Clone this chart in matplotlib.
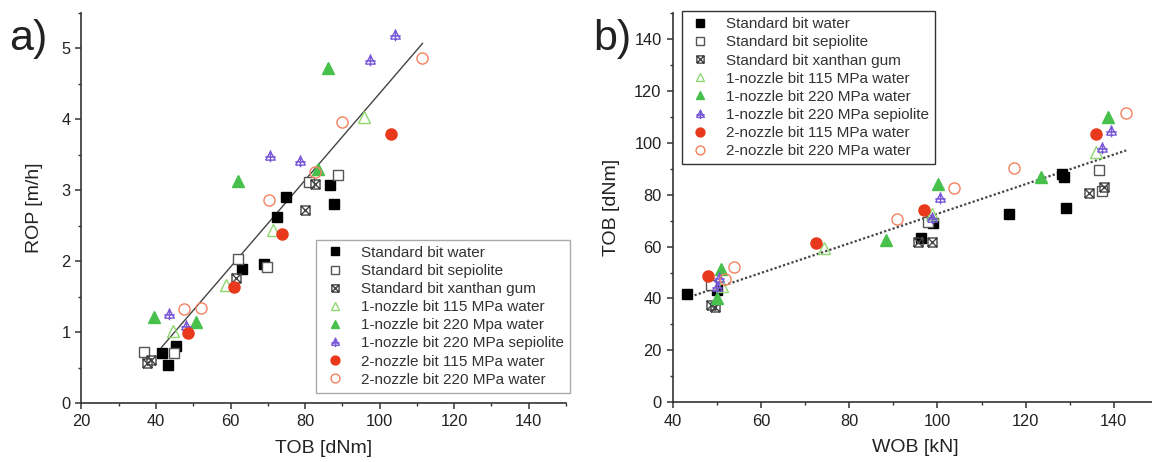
import numpy as np
import matplotlib
matplotlib.use('Agg')
import matplotlib.pyplot as plt
from matplotlib.path import Path
from matplotlib.ticker import MultipleLocator

plt.rcParams['font.family'] = ['Liberation Sans', 'DejaVu Sans']

labels = ['Standard bit water', 'Standard bit sepiolite', 'Standard bit xanthan gum',
          '1-nozzle bit 115 MPa water', '1-nozzle bit 220 Mpa water',
          '1-nozzle bit 220 MPa sepiolite', '2-nozzle bit 115 MPa water',
          '2-nozzle bit 220 MPa water']
labels_b = list(labels)
labels_b[4] = '1-nozzle bit 220 MPa water'

# panel a: ROP vs TOB
a_std_water_x = [41.5, 43.2, 45.3, 63.2, 69.0, 72.4, 74.9, 86.6, 87.8]
a_std_water_y = [0.71, 0.54, 0.81, 1.89, 1.96, 2.63, 2.91, 3.07, 2.81]
a_std_sep_x = [36.9, 44.8, 62.0, 69.9, 81.0, 88.9]
a_std_sep_y = [0.72, 0.71, 2.04, 1.92, 3.12, 3.22]
a_std_xan_x = [37.6, 38.6, 61.6, 82.7, 80.1]
a_std_xan_y = [0.57, 0.61, 1.77, 3.09, 2.72]
a_n1_115_x = [44.5, 58.8, 71.5, 95.7]
a_n1_115_y = [1.02, 1.66, 2.44, 4.04]
a_n1_220_x = [39.6, 50.7, 62.0, 86.2, 83.6]
a_n1_220_y = [1.22, 1.15, 3.13, 4.73, 3.30]
a_n1_sep_x = [43.5, 48.1, 70.5, 78.6, 97.5, 104.1]
a_n1_sep_y = [1.26, 1.09, 3.49, 3.41, 4.84, 5.19]
a_n2_115_x = [48.7, 61.0, 73.9, 103.1]
a_n2_115_y = [0.99, 1.64, 2.38, 3.79]
a_n2_220_x = [47.5, 52.1, 70.2, 82.7, 89.9, 111.5]
a_n2_220_y = [1.33, 1.34, 2.87, 3.26, 3.96, 4.87]
a_fit_x = [41.5, 111.5]
a_fit_y = [0.79, 5.07]

# panel b: TOB vs WOB
b_std_water_x = [43.2, 50.0, 96.3, 99.1, 116.2, 128.2, 128.7, 129.1]
b_std_water_y = [41.6, 43.3, 63.1, 69.0, 72.4, 88.0, 86.6, 75.0]
b_std_sep_x = [48.8, 97.8, 136.6, 137.4]
b_std_sep_y = [45.2, 69.6, 89.5, 81.2]
b_std_xan_x = [48.8, 49.6, 95.5, 98.8, 134.3, 137.7]
b_std_xan_y = [37.5, 36.9, 61.9, 61.9, 80.5, 82.8]
b_n1_115_x = [51.1, 74.4, 98.7, 136.0]
b_n1_115_y = [44.8, 59.3, 72.4, 96.2]
b_n1_220_x = [50.0, 51.0, 88.4, 100.1, 123.5, 138.7]
b_n1_220_y = [40.1, 51.2, 62.5, 84.0, 86.6, 109.8]
b_n1_sep_x = [50.4, 50.0, 98.8, 100.7, 137.2, 139.3]
b_n1_sep_y = [47.8, 44.6, 70.9, 78.6, 97.9, 104.3]
b_n2_115_x = [48.1, 72.4, 96.9, 136.0]
b_n2_115_y = [48.7, 61.3, 74.1, 103.3]
b_n2_220_x = [53.8, 51.9, 90.9, 103.7, 117.4, 142.8]
b_n2_220_y = [52.3, 47.4, 70.5, 82.5, 90.2, 111.4]
b_fit_x = [44.0, 142.8]
b_fit_y = [40.7, 97.0]

M, L = Path.MOVETO, Path.LINETO
box_x = Path([(-1, -1), (1, -1), (1, 1), (-1, 1), (-1, -1), (-1, -1), (1, 1), (-1, 1), (1, -1)],
             [M, L, L, L, L, M, L, M, L])
tri_cross = Path([(-1, -0.75), (1, -0.75), (0, 1), (-1, -0.75), (0, -1.2), (0, 1.3), (-1.1, -0.1), (1.1, -0.1)],
                 [M, L, L, L, M, L, M, L])

styles = [
    dict(marker='s', ms=7, mfc='black', mec='black'),
    dict(marker='s', ms=6.5, mfc='white', mec='#555555', mew=1.0),
    dict(marker=box_x, ms=6.5, mfc='none', mec='#444444', mew=1.0),
    dict(marker='^', ms=8, mfc='none', mec='#8fd870', mew=1.0),
    dict(marker='^', ms=8, mfc='#48c04c', mec='#48c04c'),
    dict(marker=tri_cross, ms=9, mfc='none', mec='#7a5ad8', mew=1.0),
    dict(marker='o', ms=8, mfc='#e8391c', mec='#e8391c'),
    dict(marker='o', ms=8, mfc='none', mec='#f5805f', mew=1.0),
]

fig = plt.figure(figsize=(11.52, 4.62), dpi=100)
ax1 = fig.add_axes([0.0707, 0.127, 0.4206, 0.845])
ax2 = fig.add_axes([0.5839, 0.129, 0.4213, 0.8435])

series_a = [(a_std_water_x, a_std_water_y), (a_std_sep_x, a_std_sep_y), (a_std_xan_x, a_std_xan_y),
            (a_n1_115_x, a_n1_115_y), (a_n1_220_x, a_n1_220_y), (a_n1_sep_x, a_n1_sep_y),
            (a_n2_115_x, a_n2_115_y), (a_n2_220_x, a_n2_220_y)]
series_b = [(b_std_water_x, b_std_water_y), (b_std_sep_x, b_std_sep_y), (b_std_xan_x, b_std_xan_y),
            (b_n1_115_x, b_n1_115_y), (b_n1_220_x, b_n1_220_y), (b_n1_sep_x, b_n1_sep_y),
            (b_n2_115_x, b_n2_115_y), (b_n2_220_x, b_n2_220_y)]

for ax, series, labs in [(ax1, series_a, labels), (ax2, series_b, labels_b)]:
    for (x, y), st, lab in zip(series, styles, labs):
        ax.plot(x, y, ls='none', label=lab, **st)

ax1.plot(a_fit_x, a_fit_y, color='#444444', lw=1.0, zorder=1)
ax2.plot(b_fit_x, b_fit_y, color='#444444', lw=1.6, ls=(0, (1, 1)), zorder=1)

ax1.set_xlim(20, 150)
ax1.set_ylim(0, 5.5)
ax1.xaxis.set_major_locator(MultipleLocator(20))
ax1.xaxis.set_minor_locator(MultipleLocator(10))
ax1.yaxis.set_major_locator(MultipleLocator(1))
ax1.yaxis.set_minor_locator(MultipleLocator(0.5))
ax1.set_xlabel('TOB [dNm]', fontsize=14)
ax1.set_ylabel('ROP [m/h]', fontsize=14)
ax1.yaxis.set_label_coords(-0.08, 0.5)
ax1.xaxis.set_label_coords(0.5, -0.095)

ax2.set_xlim(40, 150)
ax2.set_ylim(0, 150)
ax2.xaxis.set_major_locator(MultipleLocator(20))
ax2.xaxis.set_minor_locator(MultipleLocator(10))
ax2.yaxis.set_major_locator(MultipleLocator(20))
ax2.yaxis.set_minor_locator(MultipleLocator(10))
ax2.set_xlabel('WOB [kN]', fontsize=14)
ax2.set_ylabel('TOB [dNm]', fontsize=14)
ax2.yaxis.set_label_coords(-0.108, 0.5)
ax2.xaxis.set_label_coords(0.5, -0.095)

for ax in (ax1, ax2):
    for s in ('top', 'right'):
        ax.spines[s].set_visible(False)
    for s in ('left', 'bottom'):
        ax.spines[s].set_color('#333333')
        ax.spines[s].set_linewidth(1.2)
    ax.tick_params(which='major', direction='out', length=4.5, width=1.1, colors='#333333',
                   labelsize=11.8, labelcolor='#222222')
    ax.tick_params(which='minor', direction='out', length=2.5, width=1.0, colors='#333333')
    ax.xaxis.label.set_color('#222222')
    ax.yaxis.label.set_color('#222222')

leg_kw = dict(borderaxespad=0, fontsize=11, handlelength=1.6, handletextpad=0.9,
              labelspacing=0.27, fancybox=False, framealpha=1, borderpad=0.4, markerscale=0.8)
leg1 = ax1.legend(loc='lower left', bbox_to_anchor=(0.485, 0.027), edgecolor='#aaaaaa', **leg_kw)
leg2 = ax2.legend(loc='upper left', bbox_to_anchor=(0.019, 1.004), edgecolor='#333333', **leg_kw)
for leg in (leg1, leg2):
    leg.get_frame().set_linewidth(1.0)
    for t in leg.get_texts():
        t.set_color('#333333')

fig.text(0.008, 0.915, 'a)', fontsize=31, va='center', ha='left', color='#222222')
fig.text(0.515, 0.915, 'b)', fontsize=31, va='center', ha='left', color='#222222')

fig.savefig('out.png', dpi=100)
